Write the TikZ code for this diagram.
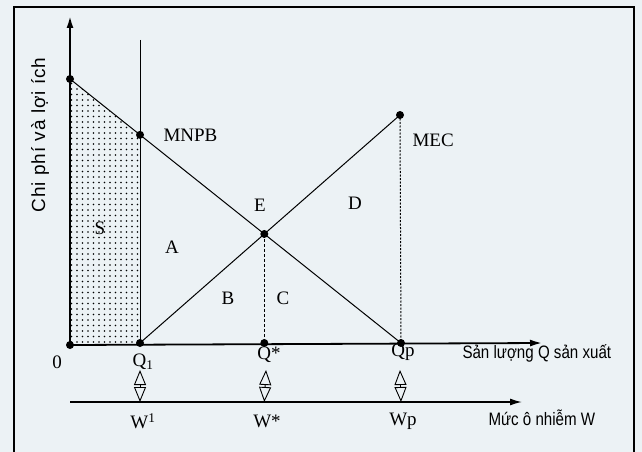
\documentclass[tikz,border=0pt]{standalone}
\usepackage{fontspec}
\setmainfont{Liberation Serif}
\newfontfamily\axisfont[FakeStretch=0.84]{Liberation Sans}
\newfontfamily\ylabfont[LetterSpace=5]{Liberation Sans}
\usetikzlibrary{arrows.meta,patterns.meta}
\definecolor{paper}{RGB}{236,242,245}

\begin{document}
\begin{tikzpicture}[x=1pt, y=-1pt, line width=1pt,
  blob/.style={circle, fill=black, inner sep=0pt, minimum size=8pt},
  lbl/.style={font=\fontsize{19}{21}\selectfont, inner sep=1pt},
  axlbl/.style={font=\axisfont\fontsize{18}{20}\selectfont, anchor=west, inner sep=0pt},
  axarrow/.style={-{Latex[length=12pt,width=7pt]}},
  link/.style={{Triangle[open,length=15pt,width=12pt]}-{Triangle[open,length=15pt,width=12pt]}, line width=0.9pt}]
  \fill[paper] (0,0) rectangle (642,452);
  \useasboundingbox (0,0) rectangle (642,452);
  \draw[line width=2pt] (14,460) -- (14,7) -- (634,7) -- (634,460);
  % points of the diagram
  \coordinate (o) at (70,345);
  \coordinate (ytop) at (70,16);
  \coordinate (p0) at (70,79);
  \coordinate (q1) at (140,343);
  \coordinate (qp) at (401,343);
  \coordinate (t) at (400,115);
  \coordinate (vtop) at (140,40);
  \coordinate (e) at (intersection of p0--qp and q1--t);
  \coordinate (m1) at (intersection of p0--qp and q1--vtop);
  \coordinate (qs) at (e |- q1);
  \coordinate (xend) at (542,343);
  \coordinate (w0) at (70,402);
  \coordinate (wend) at (522,402);
  % area S
  \fill[pattern={Dots[distance=5.5pt,radius=0.9pt]}] (o) -- (p0) -- (m1) -- (q1) -- cycle;
  % axes
  \draw[axarrow, line width=2pt] (o) -- (ytop);
  \draw[axarrow, line width=1.8pt] (o) -- (xend);
  \draw[axarrow, line width=1.5pt] (w0) -- (wend);
  % curves
  \draw (vtop) -- (q1);
  \draw (p0) -- (qp);
  \draw (q1) -- (t);
  \draw[dash pattern=on 3pt off 2pt] (e) -- (qs);
  \draw[dash pattern=on 2pt off 1.5pt] (t) -- (qp);
  \foreach \p in {o,p0,m1,q1,e,qs,qp,t}
    \node[blob] at (\p) {};
  % labels
  \node[font=\ylabfont\fontsize{19}{21}\selectfont, rotate=90] (ylab) at (40,135) {Chi phí và lợi ích};
  \node[lbl, anchor=west] (mnpb) at (162,135) {MNPB};
  \node[lbl, anchor=west] (mec) at (411,140) {MEC};
  \node[lbl] (la) at (172,247) {A};
  \node[lbl] (lb) at (228,298) {B};
  \node[lbl] (lc) at (283,298) {C};
  \node[lbl] (ld) at (355,203) {D};
  \node[lbl] (le) at (260,205) {E};
  \node[lbl] (ls) at (100,228) {S};
  \node[lbl] (l0) at (57,362) {0};
  \node[lbl] (lq1) at (143,362) {Q\textsubscript{1}};
  \node[lbl] (lqs) at (269,355) {Q*};
  \node[lbl] (lqp) at (403,352) {Qp};
  \node[lbl] (lw1) at (143,421) {W\textsuperscript{1}};
  \node[lbl] (lws) at (267,421) {W*};
  \node[lbl] (lwp) at (403,421) {Wp};
  \node[axlbl] (xlab) at (462,353) {Sản lượng Q sản xuất};
  \node[axlbl] (wlab) at (488,418) {Mức ô nhiễm W};
  % links between Q and W
  \draw[link] (140,370) -- (q1 |- w0);
  \draw[link] (266,370) -- (qs |- w0);
  \draw[link] (400,370) -- (qp |- w0);
\end{tikzpicture}
\end{document}
